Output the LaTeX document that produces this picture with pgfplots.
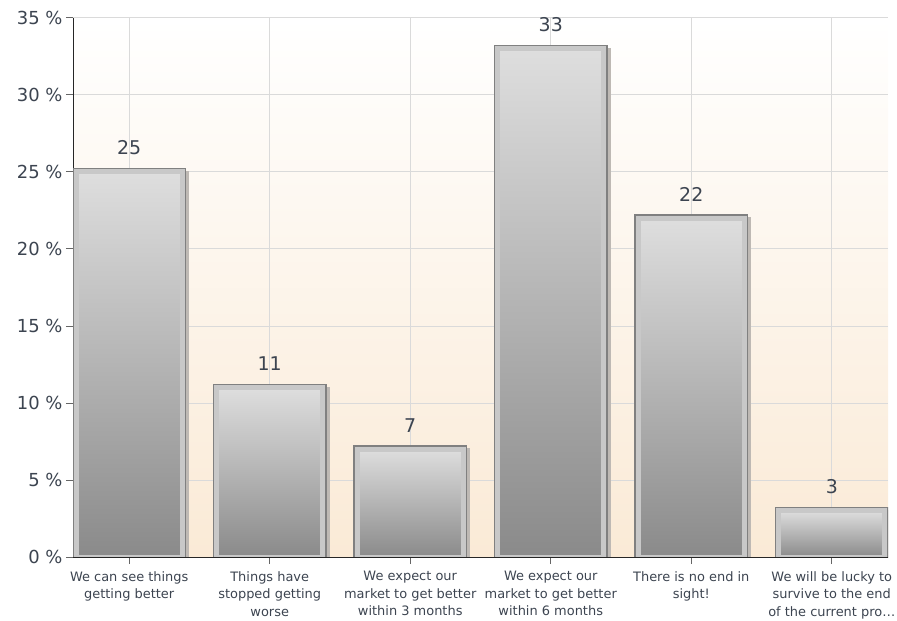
\documentclass[border=0pt]{standalone}
\usepackage{pgfplots}
\pgfplotsset{compat=1.18}
\usepackage{fontspec}
\setmainfont{DejaVu Sans}
\definecolor{txt}{RGB}{60,68,80}
\definecolor{bgbot}{RGB}{250,234,214}
\definecolor{gridc}{RGB}{218,218,218}
\definecolor{bartop}{RGB}{222,222,222}
\definecolor{barmid}{RGB}{192,192,192}
\definecolor{barbot}{RGB}{138,138,138}
\definecolor{ring}{RGB}{200,200,200}
\definecolor{edge}{RGB}{128,128,128}
\definecolor{shadow}{RGB}{190,185,180}
\pgfplotsset{mybar/.style={ybar, bar width=106bp, bar shift=0pt,
  top color=bartop, middle color=barmid, bottom color=barbot,
  draw=ring, line width=5bp,
  preaction={draw=shadow, fill=shadow, line width=8bp, transform canvas={xshift=3bp, yshift=-3bp}},
  preaction={draw=edge, line width=8bp}}}
\begin{document}
\begin{tikzpicture}
\path[use as bounding box] (-73bp,-64bp) rectangle (824bp,557bp);
\begin{axis}[
  at={(0,0)}, anchor=south west,
  scale only axis, width=815bp, height=539bp,
  xmin=-0.4, xmax=5.4, ymin=0, ymax=35,
  axis x line*=bottom, axis y line*=left,
  axis line style={black!85, line width=1bp},
  xtick={0,...,5},
  xticklabels={
    {We can see things\\getting better},
    {Things have\\stopped getting\\worse},
    {We expect our\\market to get better\\within 3 months},
    {We expect our\\market to get better\\within 6 months},
    {There is no end in\\sight!},
    {We will be lucky to\\survive to the end\\of the current pro…}},
  xticklabel style={align=center, font=\fontsize{13}{17.5}\selectfont, text=txt, yshift=-4bp},
  ytick={0,5,...,35},
  /pgf/number format/assume math mode=true,
  yticklabel={\pgfmathprintnumber{\tick} \%},
  yticklabel style={font=\fontsize{18}{20}\selectfont, text=txt},
  tick align=outside, major tick length=7bp,
  tick style={black!60, line width=1bp},
  grid=major, grid style={gridc, line width=1bp},
  axis background/.style={top color=white, bottom color=bgbot},
  clip mode=individual,
]
\addplot[mybar] coordinates {(0,25)};
\addplot[mybar] coordinates {(1,11)};
\addplot[mybar] coordinates {(2,7)};
\addplot[mybar] coordinates {(3,33)};
\addplot[mybar] coordinates {(4,22)};
\addplot[mybar] coordinates {(5,3)};
\addplot[ybar, bar width=106bp, bar shift=0pt, draw=none, fill=none,
  nodes near coords,
  nodes near coords style={font=\fontsize{19}{20}\selectfont, text=txt, anchor=base, yshift=17bp}]
  coordinates {(0,25) (1,11) (2,7) (3,33) (4,22) (5,3)};
\draw[black!85, line width=1bp] (rel axis cs:0,0) -- (rel axis cs:1,0);
\end{axis}
\end{tikzpicture}
\end{document}
